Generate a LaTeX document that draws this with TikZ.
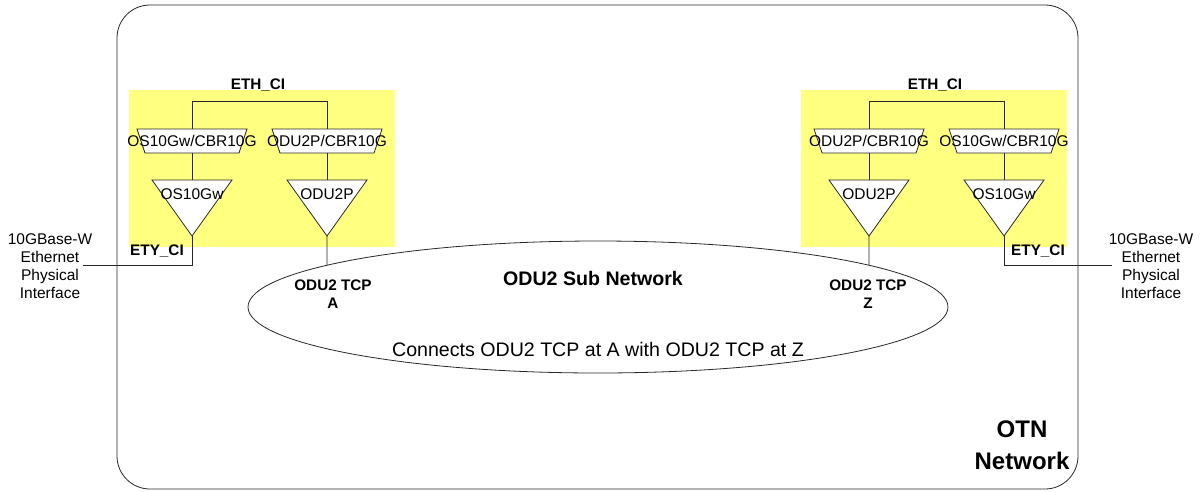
\documentclass[tikz,border=0pt]{standalone}
\usepackage{fontspec}
\setmainfont{Liberation Sans}
\usetikzlibrary{shapes.geometric,intersections}
\definecolor{hl}{RGB}{255,255,128}
\definecolor{ink}{RGB}{40,40,40}
\tikzset{
  ln/.style={line width=0.8pt, draw=ink},
  lbl/.style={font=\fontsize{15.5}{18}\selectfont, inner sep=0, align=center, text=black},
  blbl/.style={font=\fontsize{15.3}{18}\selectfont\bfseries, inner sep=0, align=center, text=black},
  biglbl/.style={font=\fontsize{19.6}{23}\selectfont, inner sep=0, align=center, text=black},
  bigblbl/.style={font=\fontsize{19.6}{23}\selectfont\bfseries, inner sep=0, align=center, text=black},
  otnlbl/.style={font=\fontsize{24}{30}\selectfont\bfseries, inner sep=0, align=center, text=black},
}
\newcommand\mytrap[3]{%
  \draw[ln,fill=white] (#1-55,129) -- (#1+55,129) -- (#1+47,153) -- (#1-47,153) -- cycle;
  \coordinate (#2t) at (#1,129);
  \coordinate (#2b) at (#1,153);
  \node[lbl] (#2) at (#1,141) {#3};}
\newcommand\mytri[3]{%
  \draw[ln,fill=white] (#1-40,180) -- (#1+40,180) -- (#1,236) -- cycle;
  \coordinate (#2t) at (#1,180);
  \coordinate (#2a) at (#1,236);
  \node[lbl] (#2) at (#1,194) {#3};}
\begin{document}
\begin{tikzpicture}[x=1pt,y=-1pt]
\fill[white] (0,0) rectangle (1203,491);
\useasboundingbox (0,0) rectangle (1203,491);

% OTN network frame
\draw[ln, rounded corners=33] (117,5) rectangle (1078,489);
\node[otnlbl] (otn) at (1022,429) {OTN};
\node[otnlbl] (net) at (1022,461) {Network};

% yellow areas
\fill[hl] (129,90) rectangle (395,247);
\fill[hl] (801,90) rectangle (1067,247);

% ellipse (sub network)
\node[ln, draw, fill=white, ellipse, name path=ell, minimum width=700, minimum height=132, inner sep=0] (sub) at (598,307) {};
\node[bigblbl] (subt) at (593,278) {ODU2 Sub Network};
\node[biglbl] (conn) at (598,349) {Connects ODU2 TCP at A with ODU2 TCP at Z};
\node[blbl] (tcpa) at (333,294) {ODU2 TCP\\A};
\node[blbl] (tcpz) at (868,294) {ODU2 TCP\\Z};

% left block
\node[blbl] (ethA) at (258,85) {ETH\_CI};
\mytrap{192}{trA1}{OS10Gw/CBR10G}
\mytrap{327}{trA2}{ODU2P/CBR10G}
\mytri{192}{tiA1}{OS10Gw}
\mytri{327}{tiA2}{ODU2P}
\draw[ln] (trA1t) -- ++(0,-28) -| (trA2t);
\draw[ln] (trA1b) -- (tiA1t);
\draw[ln] (trA2b) -- (tiA2t);
\coordinate (ifL) at (83,265);
\draw[ln] (tiA1a) |- (ifL);
\path[name path=vA] (tiA2a) -- ++(0,80);
\draw[ln, name intersections={of=vA and ell}] (tiA2a) -- (intersection-1);
\node[blbl] (etyA) at (157,251) {ETY\_CI};

% right block
\node[blbl] (ethZ) at (935,85) {ETH\_CI};
\mytrap{869}{trZ1}{ODU2P/CBR10G}
\mytrap{1004}{trZ2}{OS10Gw/CBR10G}
\mytri{869}{tiZ1}{ODU2P}
\mytri{1004}{tiZ2}{OS10Gw}
\draw[ln] (trZ1t) -- ++(0,-28) -| (trZ2t);
\draw[ln] (trZ1b) -- (tiZ1t);
\draw[ln] (trZ2b) -- (tiZ2t);
\coordinate (ifR) at (1112,265);
\draw[ln] (tiZ2a) |- (ifR);
\path[name path=vZ] (tiZ1a) -- ++(0,80);
\draw[ln, name intersections={of=vZ and ell}] (tiZ1a) -- (intersection-1);
\node[blbl] (etyZ) at (1038,251) {ETY\_CI};

% physical interface labels
\node[lbl, anchor=north] (piL) at (50,233) {10GBase-W\\Ethernet\\Physical\\Interface};
\node[lbl, anchor=north] (piR) at (1151,233) {10GBase-W\\Ethernet\\Physical\\Interface};
\end{tikzpicture}
\end{document}
